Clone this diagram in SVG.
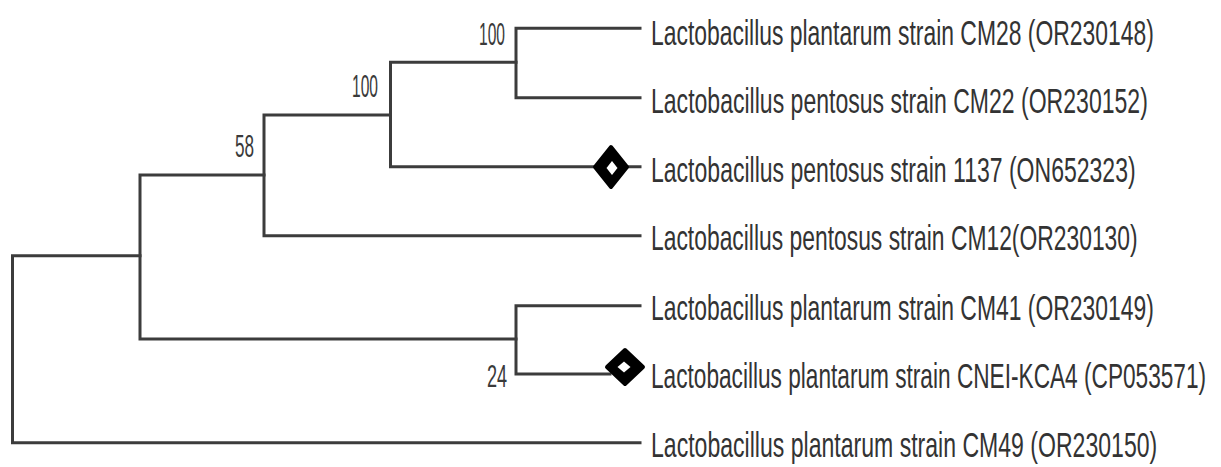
<svg xmlns="http://www.w3.org/2000/svg" width="1221" height="467" viewBox="0 0 1221 467">
<style>
.br{stroke:#3c3c3c;stroke-width:3;fill:none;stroke-linecap:square}
.lbl{font-family:"Liberation Sans",Arial,sans-serif;font-size:35px;fill:#333}
.bs{font-family:"Liberation Sans",Arial,sans-serif;font-size:31px;fill:#3a3a3a}
.dia{fill:#000;stroke:#000;stroke-width:4;stroke-linejoin:round}
.hole{fill:#fff}
</style>
<rect width="1221" height="467" fill="#fff"/>
<g id="connectors">
<path class="br" d="M12.5,255.7V442.7M12.5,255.7H140M12.5,442.7H640"/>
<path class="br" d="M140,175V339M140,175H264M140,339H516"/>
<path class="br" d="M264,115V235.7M264,115H390.5M264,235.7H640"/>
<path class="br" d="M390.5,62.3V166.7M390.5,62.3H516M390.5,166.7H640"/>
<path class="br" d="M516,28.3V97.7M516,28.3H640M516,97.7H640"/>
<path class="br" d="M516,305.7V374M516,305.7H640M516,374H610"/>
</g>
<g id="node-A"><text class="bs" transform="translate(479,45) scale(0.53,1)" textLength="49" lengthAdjust="spacingAndGlyphs">100</text></g>
<g id="node-B"><text class="bs" transform="translate(352,97) scale(0.53,1)" textLength="49" lengthAdjust="spacingAndGlyphs">100</text></g>
<g id="node-C"><text class="bs" transform="translate(235,157) scale(0.53,1)" textLength="36" lengthAdjust="spacingAndGlyphs">58</text></g>
<g id="node-E"><text class="bs" transform="translate(487,387) scale(0.53,1)" textLength="38" lengthAdjust="spacingAndGlyphs">24</text></g>
<g id="leaf-CM28"><text class="lbl" transform="translate(651,45) scale(0.675,1)" textLength="745" lengthAdjust="spacingAndGlyphs">Lactobacillus plantarum strain CM28 (OR230148)</text></g>
<g id="leaf-CM22"><text class="lbl" transform="translate(651,113) scale(0.675,1)" textLength="736" lengthAdjust="spacingAndGlyphs">Lactobacillus pentosus strain CM22 (OR230152)</text></g>
<g id="leaf-1137">
<polygon class="dia" points="611,147 627,167 611,187 595,167"/>
<polygon class="hole" points="612,161 617.5,168 612,175 606.5,168"/>
<text class="lbl" transform="translate(651,182) scale(0.675,1)" textLength="718" lengthAdjust="spacingAndGlyphs">Lactobacillus pentosus strain 1137 (ON652323)</text></g>
<g id="leaf-CM12"><text class="lbl" transform="translate(651,250) scale(0.675,1)" textLength="721" lengthAdjust="spacingAndGlyphs">Lactobacillus pentosus strain CM12(OR230130)</text></g>
<g id="leaf-CM41"><text class="lbl" transform="translate(651,320) scale(0.675,1)" textLength="745" lengthAdjust="spacingAndGlyphs">Lactobacillus plantarum strain CM41 (OR230149)</text></g>
<g id="leaf-CNEI">
<polygon class="dia" points="625,350 643,367 625,384 607,367"/>
<polygon class="hole" points="624,361.5 630.5,367 624,372.5 617.5,367"/>
<text class="lbl" transform="translate(651,388) scale(0.65,1)" textLength="854" lengthAdjust="spacingAndGlyphs">Lactobacillus plantarum strain CNEI-KCA4 (CP053571)</text></g>
<g id="leaf-CM49"><text class="lbl" transform="translate(651,457) scale(0.675,1)" textLength="750" lengthAdjust="spacingAndGlyphs">Lactobacillus plantarum strain CM49 (OR230150)</text></g>
</svg>
